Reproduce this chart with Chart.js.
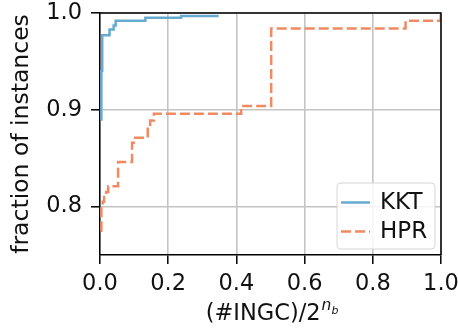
<!DOCTYPE html>
<html>
<head>
<meta charset="utf-8">
<script src="https://cdn.jsdelivr.net/npm/chart.js"></script>
<style>
  body { margin: 0; background: #fff; }
  #wrap { width: 458px; height: 329px; position: relative; }
</style>
</head>
<body>
<div id="wrap"><canvas id="cdfChart"></canvas></div>
<script>
// step positions (x) and fraction reached there (y)
const kktX = [0.002, 0.004, 0.0065, 0.028, 0.040, 0.046, 0.133, 0.238, 0.348];
const kktY = [0.890, 0.940, 0.977, 0.983, 0.987, 0.992, 0.995, 0.997, 0.997];
const hprX = [0.003, 0.004, 0.008, 0.012, 0.018, 0.024, 0.053, 0.094, 0.103, 0.140, 0.147, 0.158, 0.414, 0.502, 0.896, 0.999];
const hprY = [0.775, 0.800, 0.805, 0.810, 0.815, 0.821, 0.846, 0.866, 0.871, 0.883, 0.889, 0.896, 0.904, 0.984, 0.992, 1.000];
const xTicks = [0.0, 0.2, 0.4, 0.6, 0.8, 1.0];
const yTicks = [0.8, 0.9, 1.0];

const FONT = "'DejaVu Sans', sans-serif";
const toPoints = (xs, ys) => xs.map((x, i) => ({ x: x, y: ys[i] }));

const extras = {
    id: 'extras',
    afterDraw(chart) {
        const { ctx, chartArea: a } = chart;
        ctx.save();
        // top + right spines
        ctx.strokeStyle = '#000';
        ctx.lineWidth = 1.5;
        ctx.beginPath();
        ctx.moveTo(a.left, a.top);
        ctx.lineTo(a.right, a.top);
        ctx.lineTo(a.right, a.bottom);
        ctx.stroke();

        // legend box
        const lx = 337, ly = 183, lw = 98, lh = 66, r = 4;
        ctx.beginPath();
        ctx.roundRect(lx, ly, lw, lh, r);
        ctx.fillStyle = 'rgba(255,255,255,0.85)';
        ctx.fill();
        ctx.strokeStyle = '#d6d6d6';
        ctx.lineWidth = 1;
        ctx.stroke();
        const rows = [202.5, 231.5];
        const bases = [208.5, 237.5];
        chart.data.datasets.forEach((ds, i) => {
            ctx.beginPath();
            ctx.strokeStyle = ds.borderColor;
            ctx.lineWidth = ds.borderWidth;
            ctx.setLineDash(ds.borderDash || []);
            ctx.moveTo(341, rows[i]);
            ctx.lineTo(370, rows[i]);
            ctx.stroke();
            ctx.setLineDash([]);
            ctx.fillStyle = '#111';
            ctx.font = '23px ' + FONT;
            ctx.textBaseline = 'alphabetic';
            ctx.textAlign = 'left';
            ctx.fillText(ds.label, 380, bases[i]);
        });

        // x-axis title: (#INGC)/2^{n_b}
        const main = '(#INGC)/2';
        ctx.fillStyle = '#111';
        ctx.font = '22.5px ' + FONT;
        const w1 = ctx.measureText(main).width;
        ctx.font = 'italic 15.5px ' + FONT;
        const w2 = ctx.measureText('n').width;
        ctx.font = 'italic 11px ' + FONT;
        const w3 = ctx.measureText('b').width;
        const total = w1 + 1 + w2 + w3;
        let x = 272 - total / 2;
        const base = 320;
        ctx.textAlign = 'left';
        ctx.textBaseline = 'alphabetic';
        ctx.font = '22.5px ' + FONT;
        ctx.fillText(main, x, base);
        x += w1 + 1;
        ctx.font = 'italic 15.5px ' + FONT;
        ctx.fillText('n', x, base - 10);
        x += w2;
        ctx.font = 'italic 11px ' + FONT;
        ctx.fillText('b', x, base - 6);
        ctx.restore();
    }
};

const ctx = document.getElementById('cdfChart').getContext('2d');
const cdfChart = new Chart(ctx, {
    type: 'line',
    data: {
        datasets: [{
            label: 'KKT',
            data: toPoints(kktX, kktY),
            borderColor: '#67a9cf',
            borderWidth: 2.5,
            stepped: true,
            pointRadius: 0,
            fill: false
        }, {
            label: 'HPR',
            data: toPoints(hprX, hprY),
            borderColor: '#ef8a62',
            borderWidth: 2.5,
            borderDash: [10, 4],
            stepped: true,
            pointRadius: 0,
            fill: false
        }]
    },
    options: {
        responsive: true,
        maintainAspectRatio: false,
        animation: false,
        layout: { padding: { top: 13, right: 17, left: 0, bottom: 0 } },
        plugins: { legend: { display: false }, tooltip: { enabled: false } },
        scales: {
            x: {
                type: 'linear',
                min: 0,
                max: 1,
                afterBuildTicks: (scale) => { scale.ticks = xTicks.map(v => ({ value: v })); },
                afterFit: (scale) => {
                    scale.height = 74;
                    scale.paddingLeft = 0;
                    scale.paddingRight = 0;
                },
                ticks: {
                    autoSkip: false,
                    maxRotation: 0,
                    padding: 7,
                    color: '#111',
                    font: { family: FONT, size: 22.5 },
                    callback: (v) => v.toFixed(1)
                },
                grid: { color: '#c4c4c4', lineWidth: 1.6, tickColor: '#000', tickWidth: 1.5, tickLength: 9 },
                border: { color: '#000', width: 1.5 }
            },
            y: {
                type: 'linear',
                min: 0.75,
                max: 1.0,
                afterBuildTicks: (scale) => { scale.ticks = yTicks.map(v => ({ value: v })); },
                afterFit: (scale) => {
                    scale.width = 100;
                    scale.paddingTop = 0;
                    scale.paddingBottom = 0;
                },
                ticks: {
                    padding: 9,
                    color: '#111',
                    font: { family: FONT, size: 22.5 },
                    callback: (v) => v.toFixed(1)
                },
                grid: { color: '#c4c4c4', lineWidth: 1.6, tickColor: '#000', tickWidth: 1.5, tickLength: 9 },
                border: { color: '#000', width: 1.5 },
                title: {
                    display: true,
                    text: 'fraction of instances',
                    color: '#111',
                    font: { family: FONT, size: 23.5, lineHeight: 1.2 },
                    padding: { top: 8, bottom: 0 }
                }
            }
        }
    },
    plugins: [extras]
});
</script>
</body>
</html>
